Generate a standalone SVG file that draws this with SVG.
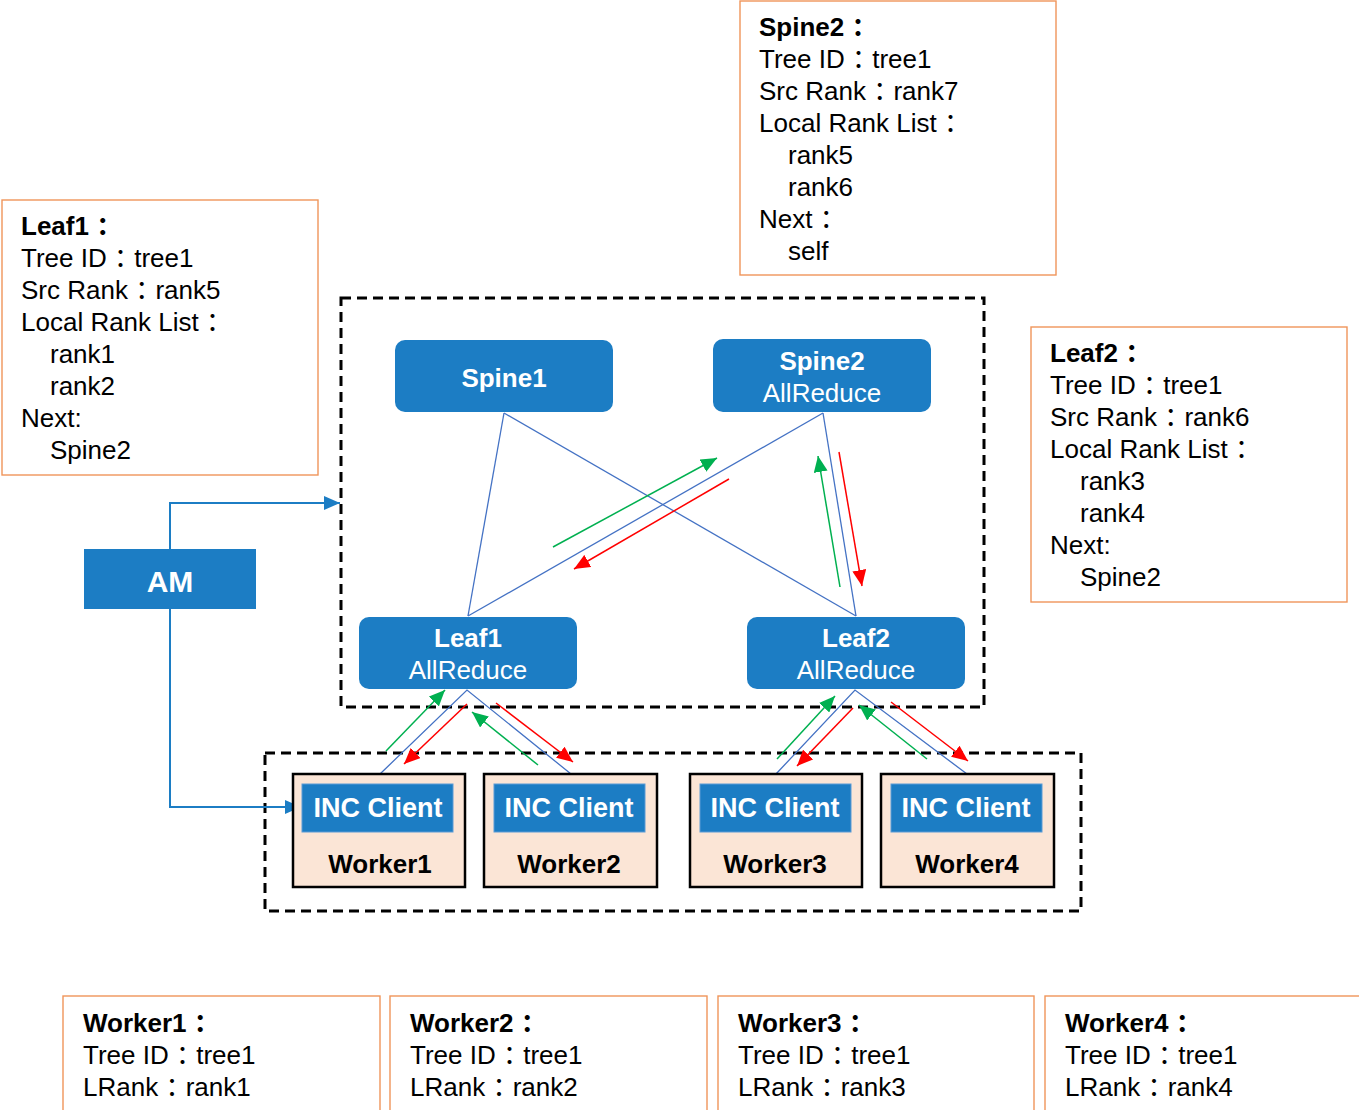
<svg xmlns="http://www.w3.org/2000/svg" width="1359" height="1110" viewBox="0 0 1359 1110">
<style>
text{font-family:"Liberation Sans","Noto Sans CJK SC",sans-serif}
.info{fill:#fff;stroke:#F0955A;stroke-width:1.4}
.it{font-size:26px;fill:#000}
.b{font-weight:bold}
.c{letter-spacing:-13px}
.node{fill:#1C7DC4}
.nt{fill:#fff;font-size:26px;text-anchor:middle}
.dash{fill:none;stroke:#000;stroke-width:3;stroke-dasharray:10 6}
.link{stroke:#4472C4;stroke-width:1.3;fill:none}
.g{stroke:#00B050;stroke-width:1.5;fill:none;marker-end:url(#ag)}
.r{stroke:#FF0000;stroke-width:1.5;fill:none;marker-end:url(#ar)}
.am{stroke:#1C7DC4;stroke-width:2;fill:none;marker-end:url(#ab)}
.wk{fill:#FBE5D6;stroke:#000;stroke-width:2.5}
.inc{fill:#1C7DC4;stroke:#5B9BD5;stroke-width:1}
.wt{fill:#000;font-size:26px;font-weight:bold;text-anchor:middle}
</style>
<defs>
<marker id="ag" markerWidth="16" markerHeight="14" refX="16" refY="7" orient="auto" markerUnits="userSpaceOnUse"><path d="M0,0 L16,7 L0,14 z" fill="#00B050"/></marker>
<marker id="ar" markerWidth="16" markerHeight="14" refX="16" refY="7" orient="auto" markerUnits="userSpaceOnUse"><path d="M0,0 L16,7 L0,14 z" fill="#FF0000"/></marker>
<marker id="ab" markerWidth="16" markerHeight="14" refX="16" refY="7" orient="auto" markerUnits="userSpaceOnUse"><path d="M0,0 L16,7 L0,14 z" fill="#1C7DC4"/></marker>
</defs>

<rect class="dash" x="341" y="298" width="643" height="409"/>
<rect class="dash" x="265" y="753" width="816" height="158"/>

<g id="info-leaf1">
<rect class="info" x="2" y="200" width="316" height="275"/>
<text class="it" x="21" y="235"><tspan class="b">Leaf1 <tspan class="c">：</tspan></tspan><tspan x="21" y="267">Tree ID <tspan class="c">：</tspan> tree1</tspan><tspan x="21" y="299">Src Rank <tspan class="c">：</tspan> rank5</tspan><tspan x="21" y="331">Local Rank List <tspan class="c">：</tspan></tspan><tspan x="50" y="363">rank1</tspan><tspan x="50" y="395">rank2</tspan><tspan x="21" y="427">Next:</tspan><tspan x="50" y="459">Spine2</tspan></text>
</g>
<g id="info-spine2">
<rect class="info" x="740" y="1" width="316" height="274"/>
<text class="it" x="759" y="36"><tspan class="b">Spine2 <tspan class="c">：</tspan></tspan><tspan x="759" y="68">Tree ID <tspan class="c">：</tspan> tree1</tspan><tspan x="759" y="100">Src Rank <tspan class="c">：</tspan> rank7</tspan><tspan x="759" y="132">Local Rank List <tspan class="c">：</tspan></tspan><tspan x="788" y="164">rank5</tspan><tspan x="788" y="196">rank6</tspan><tspan x="759" y="228">Next <tspan class="c">：</tspan></tspan><tspan x="788" y="260">self</tspan></text>
</g>
<g id="info-leaf2">
<rect class="info" x="1031" y="327" width="316" height="275"/>
<text class="it" x="1050" y="362"><tspan class="b">Leaf2 <tspan class="c">：</tspan></tspan><tspan x="1050" y="394">Tree ID <tspan class="c">：</tspan> tree1</tspan><tspan x="1050" y="426">Src Rank <tspan class="c">：</tspan> rank6</tspan><tspan x="1050" y="458">Local Rank List <tspan class="c">：</tspan></tspan><tspan x="1080" y="490">rank3</tspan><tspan x="1080" y="522">rank4</tspan><tspan x="1050" y="554">Next:</tspan><tspan x="1080" y="586">Spine2</tspan></text>
</g>
<g id="info-worker1">
<rect class="info" x="63" y="996" width="317" height="130"/>
<text class="it" x="83" y="1032"><tspan class="b">Worker1 <tspan class="c">：</tspan></tspan><tspan x="83" y="1064">Tree ID <tspan class="c">：</tspan> tree1</tspan><tspan x="83" y="1096">LRank <tspan class="c">：</tspan> rank1</tspan></text>
</g>
<g id="info-worker2">
<rect class="info" x="390" y="996" width="317" height="130"/>
<text class="it" x="410" y="1032"><tspan class="b">Worker2 <tspan class="c">：</tspan></tspan><tspan x="410" y="1064">Tree ID <tspan class="c">：</tspan> tree1</tspan><tspan x="410" y="1096">LRank <tspan class="c">：</tspan> rank2</tspan></text>
</g>
<g id="info-worker3">
<rect class="info" x="718" y="996" width="316" height="130"/>
<text class="it" x="738" y="1032"><tspan class="b">Worker3 <tspan class="c">：</tspan></tspan><tspan x="738" y="1064">Tree ID <tspan class="c">：</tspan> tree1</tspan><tspan x="738" y="1096">LRank <tspan class="c">：</tspan> rank3</tspan></text>
</g>
<g id="info-worker4">
<rect class="info" x="1045" y="996" width="330" height="130"/>
<text class="it" x="1065" y="1032"><tspan class="b">Worker4 <tspan class="c">：</tspan></tspan><tspan x="1065" y="1064">Tree ID <tspan class="c">：</tspan> tree1</tspan><tspan x="1065" y="1096">LRank <tspan class="c">：</tspan> rank4</tspan></text>
</g>

<g id="connectors">
<line class="link" x1="504" y1="413" x2="468" y2="616"/>
<line class="link" x1="504" y1="413" x2="856" y2="616"/>
<line class="link" x1="823" y1="413" x2="468" y2="616"/>
<line class="link" x1="823" y1="413" x2="856" y2="616"/>
<polyline class="link" points="380,774 467,690 571,774"/>
<polyline class="link" points="776,774 855,690 967,774"/>
<line class="g" x1="553" y1="547" x2="717" y2="458"/>
<line class="r" x1="729" y1="479" x2="574" y2="569"/>
<line class="g" x1="840" y1="587" x2="818" y2="456"/>
<line class="r" x1="839" y1="452" x2="862" y2="586"/>
<line class="g" x1="386" y1="751" x2="445" y2="690"/>
<line class="r" x1="467" y1="704" x2="404" y2="764"/>
<line class="g" x1="538" y1="765" x2="472" y2="712"/>
<line class="r" x1="496" y1="703" x2="573" y2="762"/>
<line class="g" x1="777" y1="759" x2="835" y2="696"/>
<line class="r" x1="853" y1="708" x2="797" y2="766"/>
<line class="g" x1="927" y1="759" x2="859" y2="705"/>
<line class="r" x1="891" y1="702" x2="968" y2="761"/>
<polyline class="am" points="170,549 170,503 340,503"/>
<polyline class="am" points="170,609 170,807 301,807"/>
</g>

<g id="spine1">
<rect class="node" x="395" y="340" width="218" height="72" rx="10"/>
<text class="nt b" x="504" y="387">Spine1</text>
</g>
<g id="spine2">
<rect class="node" x="713" y="339" width="218" height="73" rx="10"/>
<text class="nt b" x="822" y="370">Spine2</text>
<text class="nt" x="822" y="402">AllReduce</text>
</g>
<g id="leaf1">
<rect class="node" x="359" y="617" width="218" height="72" rx="10"/>
<text class="nt b" x="468" y="647">Leaf1</text>
<text class="nt" x="468" y="679">AllReduce</text>
</g>
<g id="leaf2">
<rect class="node" x="747" y="617" width="218" height="72" rx="10"/>
<text class="nt b" x="856" y="647">Leaf2</text>
<text class="nt" x="856" y="679">AllReduce</text>
</g>
<g id="am">
<rect class="node" x="84" y="549" width="172" height="60"/>
<text class="nt b" x="170" y="592" style="font-size:30px">AM</text>
</g>
<g id="worker1">
<rect class="wk" x="293" y="774" width="172" height="113"/>
<rect class="inc" x="302" y="784" width="151" height="48"/>
<text class="nt b" x="378" y="817" style="font-size:27px">INC Client</text>
<text class="wt" x="380" y="873">Worker1</text>
</g>
<g id="worker2">
<rect class="wk" x="484" y="774" width="173" height="113"/>
<rect class="inc" x="494" y="784" width="151" height="48"/>
<text class="nt b" x="569" y="817" style="font-size:27px">INC Client</text>
<text class="wt" x="569" y="873">Worker2</text>
</g>
<g id="worker3">
<rect class="wk" x="690" y="774" width="172" height="113"/>
<rect class="inc" x="700" y="784" width="151" height="48"/>
<text class="nt b" x="775" y="817" style="font-size:27px">INC Client</text>
<text class="wt" x="775" y="873">Worker3</text>
</g>
<g id="worker4">
<rect class="wk" x="881" y="774" width="173" height="113"/>
<rect class="inc" x="891" y="784" width="151" height="48"/>
<text class="nt b" x="966" y="817" style="font-size:27px">INC Client</text>
<text class="wt" x="967" y="873">Worker4</text>
</g>
</svg>
